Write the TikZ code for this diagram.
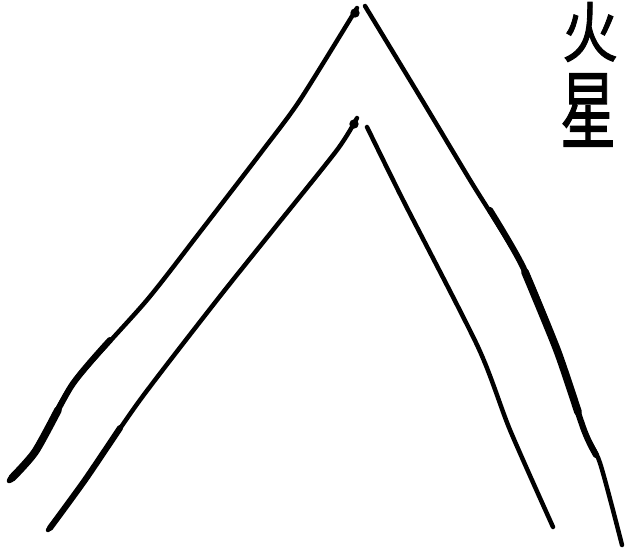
\documentclass[tikz,border=0pt]{standalone}
\usepackage{fontspec}
\newfontfamily\cjk[FakeBold=1.5]{Noto Sans CJK SC}
\tikzset{
  brush/.style={
    draw=black, line width=3.8pt, line cap=round, line join=round
  },
  mid brush/.style={
    draw=black, line width=5.2pt, line cap=round, line join=round
  },
  heavy brush/.style={
    draw=black, line width=6.6pt, line cap=round, line join=round
  },
  ink dot/.style={
    circle, fill=black, inner sep=0pt, minimum size=8pt
  },
  glyph/.style={
    font=\cjk\fontsize{56}{56}\selectfont, inner sep=0pt, xscale=0.85
  }
}

\begin{document}
\begin{tikzpicture}[x=0.03cm, y=-0.03cm, smooth, tension=0.45]
\useasboundingbox (0,0) rectangle (626,552);

% ------------------------------------------------
% 外层：尖顶两笔
% ------------------------------------------------
\coordinate (outerTop) at (357,8);
\draw[brush] plot[smooth] coordinates {
  (9,481) (35,452) (72,385) (147,300) (200,232) (263,150) (300,100) (outerTop)};
\draw[mid brush] plot[smooth] coordinates {(10,480) (35,452) (72,385) (110,340)};
\draw[heavy brush] plot[smooth] coordinates {(12,478) (35,452) (58,410)};
\node[ink dot] (outerDot) at (355,13) {};
\draw[brush] plot[smooth] coordinates {
  (365,6) (422,100) (470,180) (523,267) (557,350) (584,430) (600,463) (622,545)};
\draw[mid brush] plot[smooth] coordinates {(490,210) (523,267) (557,350) (584,430) (596,455)};
\draw[heavy brush] plot[smooth] coordinates {(525,272) (557,350) (578,412)};

% ------------------------------------------------
% 内层：尖顶两笔
% ------------------------------------------------
\coordinate (innerTop) at (357,118);
\draw[brush] plot[smooth] coordinates {
  (48,530) (85,480) (140,400) (217,300) (273,230) (337,150) (innerTop)};
\draw[mid brush] plot[smooth] coordinates {(50,528) (85,480) (120,428)};
\node[ink dot] (innerDot) at (354,124) {};
\draw[brush] plot[smooth] coordinates {
  (367,127) (403,200) (478,347) (510,430) (553,527)};

% ------------------------------------------------
% 右上角竖排文字
% ------------------------------------------------
\node[glyph] (huo)  at (590,32)  {火};
\node[glyph, yscale=1.3] (xing) at (588,110) {星};
\end{tikzpicture}
\end{document}
